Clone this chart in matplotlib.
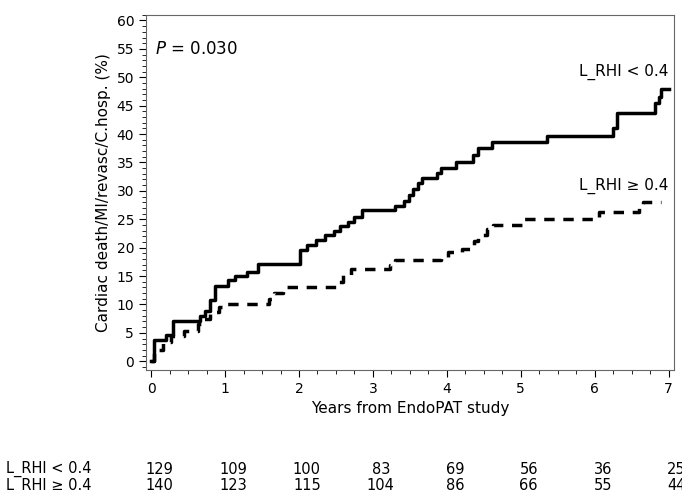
import numpy as np
import matplotlib.pyplot as plt
from matplotlib.ticker import MultipleLocator

# step curves (years, cumulative %)
low_t = [0, 0.04, 0.2, 0.3, 0.66, 0.73, 0.8, 0.87, 1.04, 1.13, 1.3, 1.44, 2.01, 2.11, 2.23, 2.35,
         2.47, 2.56, 2.66, 2.75, 2.85, 3.3, 3.42, 3.49, 3.54, 3.61, 3.66, 3.87, 3.92, 4.13, 4.35,
         4.42, 4.61, 5.35, 6.25, 6.3, 6.82, 6.87, 6.9, 7.0]
low_y = [0, 3.8, 4.6, 7.0, 8.0, 8.9, 10.7, 13.3, 14.3, 15.0, 15.7, 17.2, 19.6, 20.4, 21.3, 22.2,
         23.0, 23.8, 24.5, 25.4, 26.6, 27.4, 28.3, 29.2, 30.3, 31.4, 32.3, 33.2, 34.1, 35.0, 36.4,
         37.6, 38.6, 39.6, 41.0, 43.7, 45.5, 46.5, 48.0, 48.0]
high_t = [0, 0.04, 0.16, 0.27, 0.44, 0.63, 0.7, 0.8, 0.92, 0.99, 1.59, 1.66, 1.78, 2.54, 2.59, 2.7,
          3.23, 3.3, 3.92, 4.01, 4.2, 4.37, 4.42, 4.54, 4.63, 5.01, 6.06, 6.6, 6.65, 6.9]
high_y = [0, 2.0, 3.3, 4.4, 5.4, 6.5, 7.5, 8.6, 9.5, 10.1, 10.9, 12.0, 13.0, 14.0, 15.2, 16.2,
          16.9, 17.9, 18.3, 19.3, 19.8, 21.2, 22.2, 23.2, 24.0, 25.0, 26.3, 27.2, 28.0, 28.0]

risk_years = [0, 1, 2, 3, 4, 5, 6, 7]
risk_low = [129, 109, 100, 83, 69, 56, 36, 25]
risk_high = [140, 123, 115, 104, 86, 66, 55, 44]

fig = plt.figure(figsize=(6.82, 4.93), dpi=100)
ax = fig.add_axes([0.214, 0.25, 0.774, 0.72])

ax.step(low_t, low_y, where='post', color='black', lw=2.5)
ax.step(high_t, high_y, where='post', color='black', lw=2.5, ls=(0, (3, 2.5)))

ax.set_xlim(-0.07, 7.07)
ax.set_ylim(-1.5, 61)
ax.set_xticks(range(8))
ax.set_yticks(range(0, 61, 5))
ax.xaxis.set_minor_locator(MultipleLocator(0.25))
ax.yaxis.set_minor_locator(MultipleLocator(1))
ax.tick_params(labelsize=10, direction='out', length=5)
ax.tick_params(which='minor', length=3)
ax.set_xlabel('Years from EndoPAT study', fontsize=11)
ax.set_ylabel('Cardiac death/MI/revasc/C.hosp. (%)', fontsize=11)
for s in ax.spines.values():
    s.set_color('#666666')

ax.text(0.05, 55, '$P$ = 0.030', fontsize=12, va='center')
ax.text(7.0, 49.5, 'L_RHI < 0.4', fontsize=11, ha='right', va='bottom')
ax.text(7.0, 29.5, 'L_RHI ≥ 0.4', fontsize=11, ha='right', va='bottom')

for row, (lab, vals) in enumerate([('L_RHI < 0.4', risk_low), ('L_RHI ≥ 0.4', risk_high)]):
    yy = -0.28 - row * 0.047
    ax.text(-0.265, yy, lab, transform=ax.transAxes, fontsize=10.5, va='center', ha='left')
    for t, v in zip(risk_years, vals):
        ax.text((t + 0.07) / 7.14 + 0.015, yy, str(v), transform=ax.transAxes,
                fontsize=10.5, va='center', ha='center')

fig.savefig('out.png', dpi=100)
